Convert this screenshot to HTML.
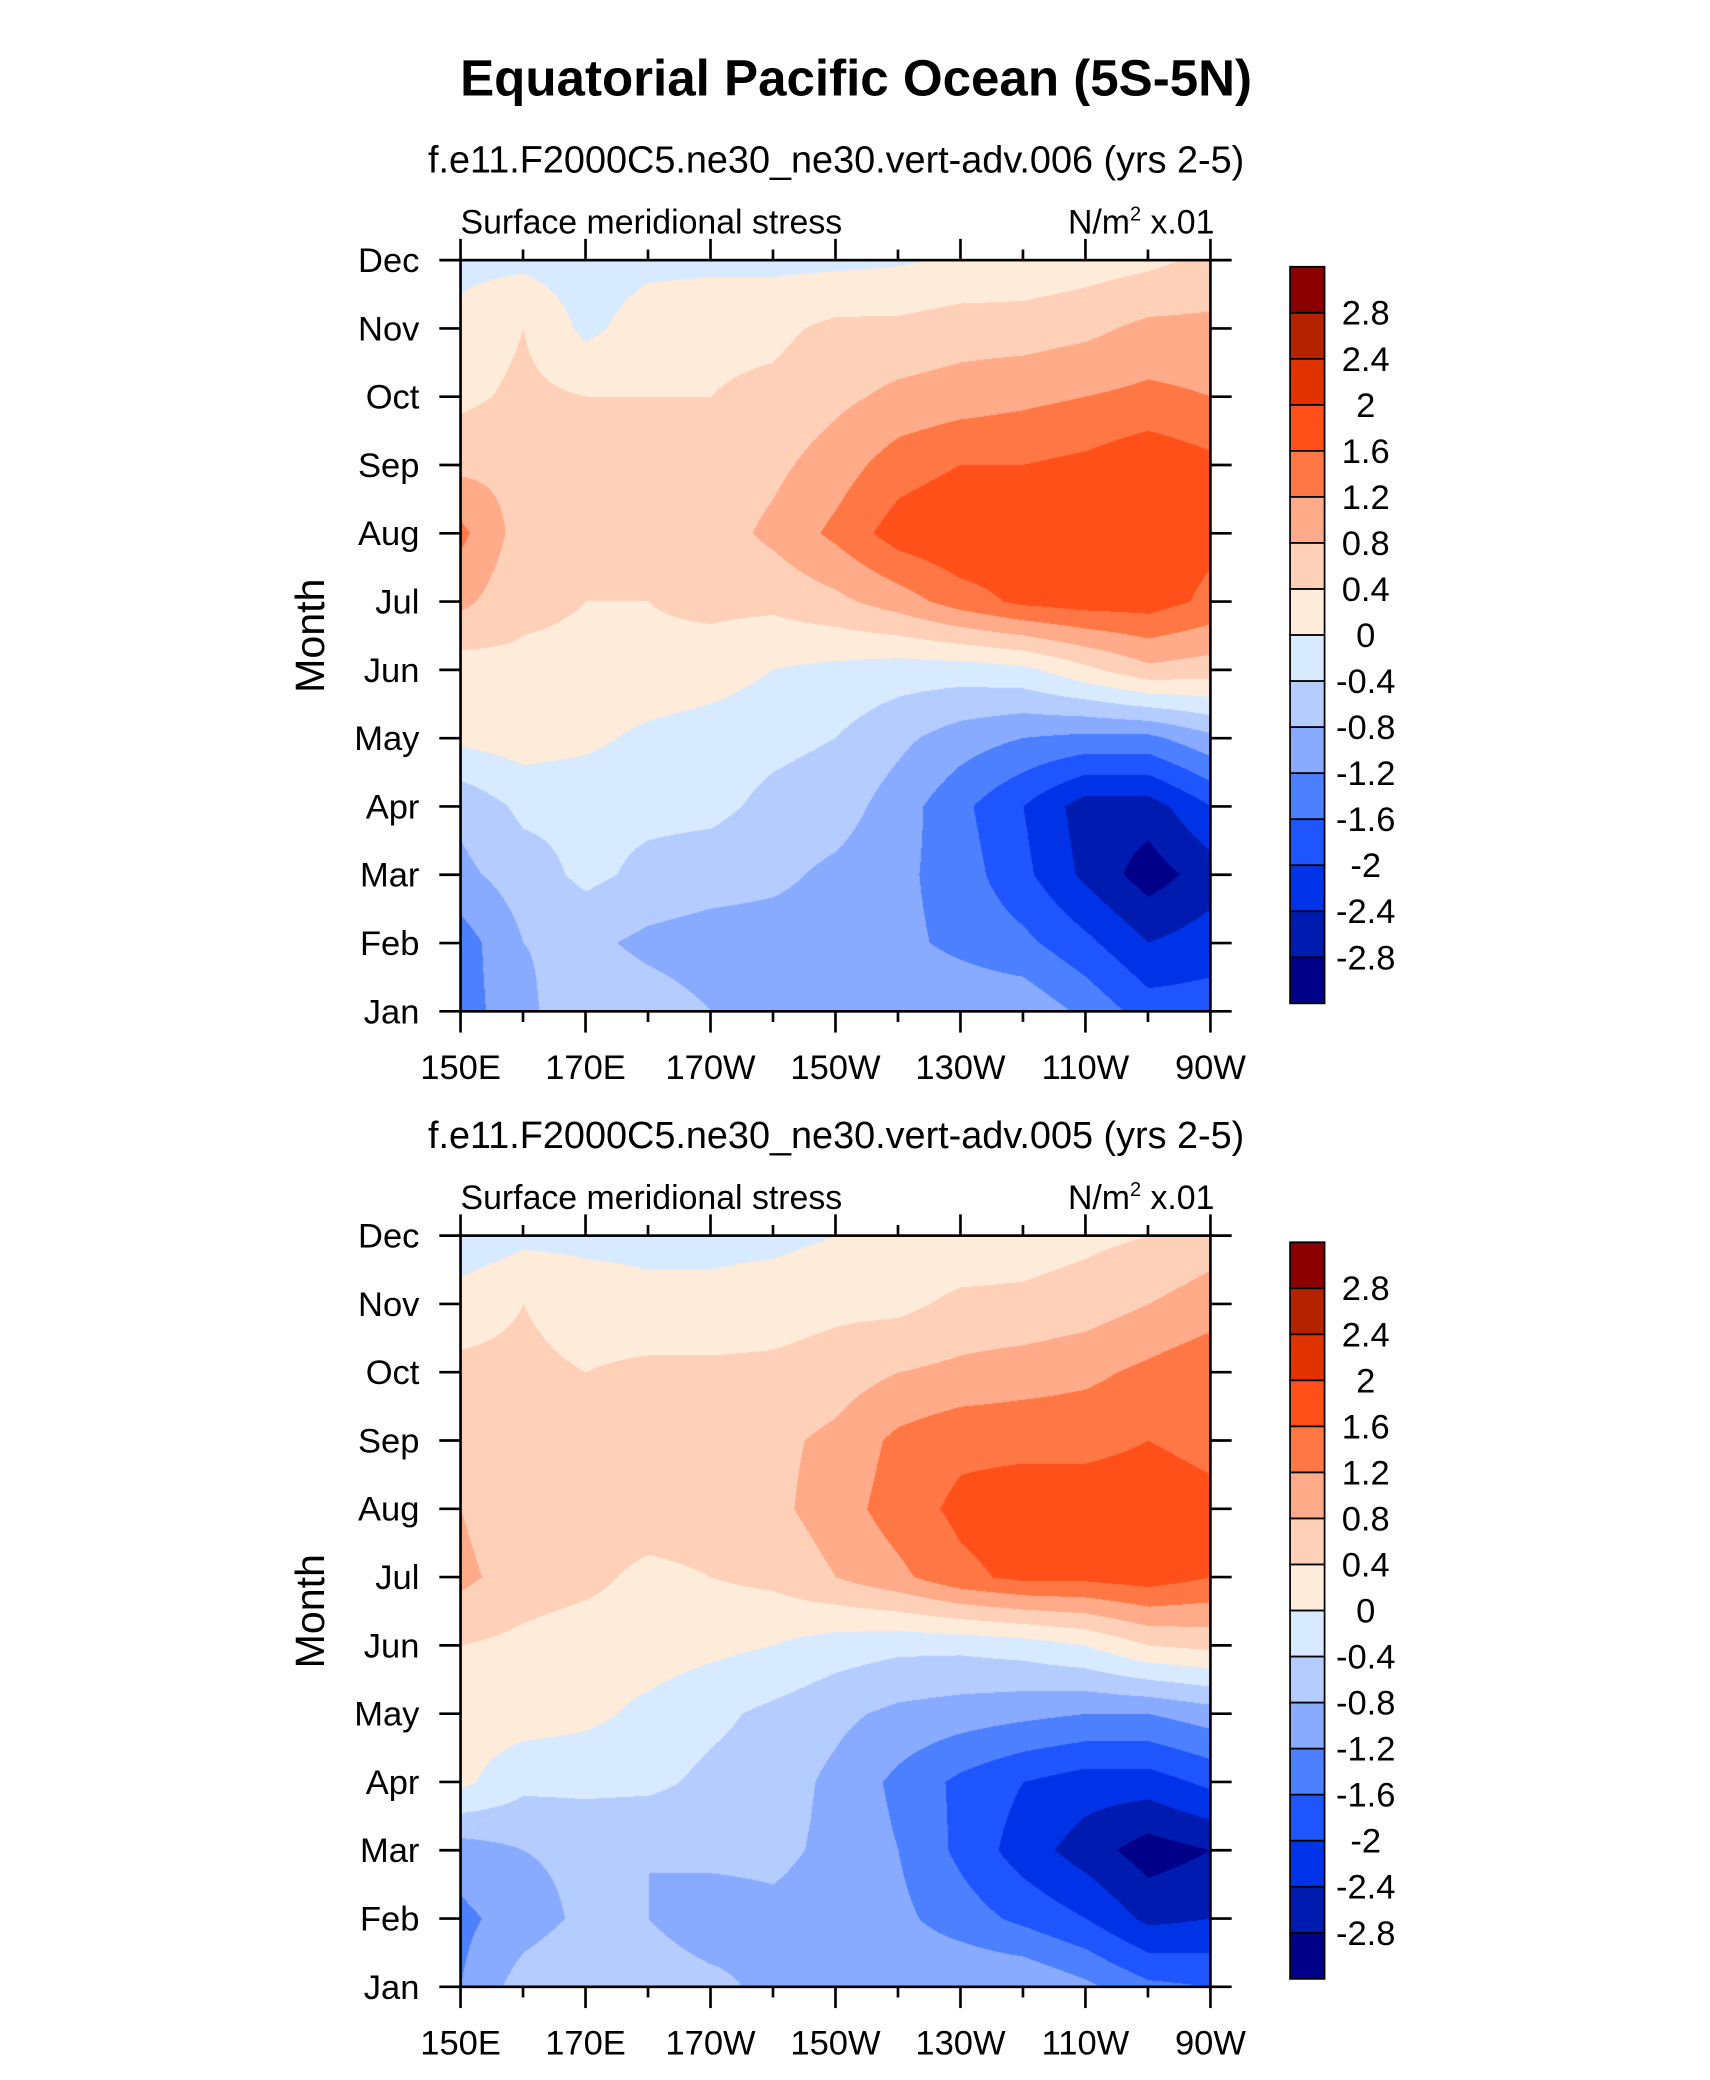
<!DOCTYPE html>
<html><head><meta charset="utf-8">
<style>
html,body{margin:0;padding:0;background:#fff;}
#wrap{position:relative;width:1710px;height:2080px;overflow:hidden;background:#fff;}
canvas{position:absolute;}
svg{position:absolute;left:0;top:0;}
</style></head>
<body>
<div id="wrap">
<canvas id="c1"></canvas>
<canvas id="c2"></canvas>
<svg id="svg" width="1710" height="2080" viewBox="0 0 1288.4 1567.2" preserveAspectRatio="none" font-family="Liberation Sans, Arial, sans-serif">
<text x="645" y="72" text-anchor="middle" font-size="38.5" font-weight="bold">Equatorial Pacific Ocean (5S-5N)</text>
</svg>
</div>
<script>
// ---- data ----
const months = ["Jan","Feb","Mar","Apr","May","Jun","Jul","Aug","Sep","Oct","Nov","Dec"];
const lons = [150,160,170,180,190,200,210,220,230,240,250,260,270];
const xTickLabels = ["150E","170E","170W","150W","130W","110W","90W"];
const levels = [-2.8,-2.4,-2,-1.6,-1.2,-0.8,-0.4,0,0.4,0.8,1.2,1.6,2,2.4,2.8];
const levelLabels = ["2.8","2.4","2","1.6","1.2","0.8","0.4","0","-0.4","-0.8","-1.2","-1.6","-2","-2.4","-2.8"];
const colors = ["#000088","#001bb0","#0033e8","#1f55ff","#4c80ff","#88aaff","#b4ccff","#d8eaff","#ffebda","#ffd0b8","#ffaa88","#ff7744","#ff5019","#e03300","#b52200","#8b0000"];
const run006 = [
 [-1.4,-0.9,-0.5,-0.6,-0.8,-0.9,-0.9,-0.9,-0.9,-0.9,-1.3,-1.8,-1.8],
 [-1.4,-0.8,-0.7,-0.9,-1.0,-1.0,-1.0,-1.1,-1.3,-1.5,-1.9,-2.4,-2.2],
 [-0.9,-0.6,-0.3,-0.5,-0.6,-0.7,-0.9,-1.1,-1.4,-1.9,-2.5,-3.0,-2.6],
 [-0.7,-0.3,-0.3,-0.3,-0.3,-0.5,-0.6,-1.0,-1.5,-2.0,-2.6,-2.6,-2.0],
 [0.1,0.2,0.1,-0.1,-0.2,-0.3,-0.4,-0.7,-1.0,-1.2,-1.3,-1.3,-0.9],
 [0.2,0.3,0.3,0.3,0.2,0.0,-0.1,-0.2,-0.2,-0.1,0.3,0.7,0.6],
 [0.9,0.5,0.4,0.4,0.5,0.5,0.7,1.0,1.4,1.7,1.8,1.8,1.5],
 [1.3,0.6,0.6,0.8,0.6,0.9,1.3,1.8,2.0,1.9,1.8,1.9,1.7],
 [0.7,0.7,0.6,0.6,0.5,0.7,1.0,1.4,1.6,1.6,1.7,1.9,1.7],
 [0.3,0.5,0.4,0.4,0.4,0.5,0.7,0.9,1.0,1.1,1.2,1.3,1.2],
 [0.1,0.4,-0.1,0.2,0.3,0.3,0.5,0.5,0.6,0.6,0.7,0.9,0.9],
 [-0.1,-0.1,-0.2,-0.1,-0.1,-0.1,-0.1,-0.05,0.05,0.1,0.2,0.3,0.5]
];
const run005 = [
 [-1.2,-0.6,-0.4,-0.6,-0.7,-0.9,-1.0,-0.9,-0.8,-0.8,-1.1,-1.5,-1.6],
 [-1.3,-1.0,-0.7,-0.8,-1.0,-0.9,-1.0,-1.1,-1.4,-1.7,-2.0,-2.5,-2.4],
 [-1.0,-0.8,-0.7,-0.8,-0.7,-0.7,-0.9,-1.2,-1.7,-2.2,-2.6,-3.0,-2.8],
 [0.1,-0.3,-0.3,-0.3,-0.5,-0.6,-0.9,-1.3,-1.7,-2.0,-2.2,-2.2,-1.9],
 [0.2,0.2,0.1,-0.1,-0.3,-0.5,-0.7,-0.9,-1.0,-1.1,-1.2,-1.2,-1.0],
 [0.4,0.3,0.2,0.2,0.1,0.0,-0.2,-0.3,-0.3,-0.2,0.0,0.4,0.5],
 [0.9,0.6,0.5,0.3,0.4,0.5,0.8,1.1,1.5,1.7,1.7,1.8,1.6],
 [0.8,0.5,0.6,0.6,0.6,0.7,1.0,1.4,1.7,1.8,1.8,1.8,1.7],
 [0.6,0.4,0.6,0.6,0.6,0.7,0.9,1.3,1.5,1.5,1.5,1.6,1.5],
 [0.5,0.5,0.4,0.5,0.5,0.5,0.6,0.8,0.9,1.0,1.1,1.3,1.5],
 [0.2,0.4,0.2,0.1,0.1,0.2,0.3,0.3,0.5,0.5,0.6,0.8,1.0],
 [-0.3,-0.1,-0.1,-0.1,-0.1,-0.1,0.0,0.05,0.1,0.2,0.3,0.4,0.6]
];
// ---- layout (display units, scaled by K to real px) ----
const K = 1710/1288.4;
const PL = 347, PR = 912, PW = PR-PL, PH = 566;
const panels = [
 {top:196, data:run006, canvas:'c1', sub:"f.e11.F2000C5.ne30_ne30.vert-adv.006 (yrs 2-5)", name:'006'},
 {top:931, data:run005, canvas:'c2', sub:"f.e11.F2000C5.ne30_ne30.vert-adv.005 (yrs 2-5)", name:'005'}
];
const NS = 'http://www.w3.org/2000/svg';
const svg = document.getElementById('svg');
function el(tag, attrs, parent){const e=document.createElementNS(NS,tag);for(const k in attrs)e.setAttribute(k,attrs[k]);(parent||svg).appendChild(e);return e;}
function hex(c){return [parseInt(c.substr(1,2),16),parseInt(c.substr(3,2),16),parseInt(c.substr(5,2),16)];}
function colorIndex(v){let i=0;while(i<levels.length && v>=levels[i])i++;return i;}
function xScale(lon){return PL + (lon-150)/120*PW;}
function yScale(top,m){return top+PH - m/11*PH;}
function sample(data,lon,m){
  let fi=(lon-150)/10, fj=m;
  let i=Math.min(Math.floor(fi),lons.length-2), j=Math.min(Math.floor(fj),months.length-2);
  i=Math.max(0,i); j=Math.max(0,j);
  const tx=fi-i, ty=fj-j;
  const a=data[j][i], b=data[j][i+1], c=data[j+1][i], d=data[j+1][i+1];
  return a*(1-tx)*(1-ty)+b*tx*(1-ty)+c*(1-tx)*ty+d*tx*ty;
}
const rgb = colors.map(hex);
panels.forEach(p=>{
  const cv=document.getElementById(p.canvas);
  const W=Math.round(PW*K), H=Math.round(PH*K);
  cv.width=W; cv.height=H;
  cv.style.left=(PL*K)+'px'; cv.style.top=(p.top*K)+'px';
  const ctx=cv.getContext('2d'); const img=ctx.createImageData(W,H);
  for(let y=0;y<H;y++){
    const m=(1-(y+0.5)/H)*11;
    for(let x=0;x<W;x++){
      const lon=150+(x+0.5)/W*120;
      const c=rgb[colorIndex(sample(p.data,lon,m))];
      const o=(y*W+x)*4; img.data[o]=c[0];img.data[o+1]=c[1];img.data[o+2]=c[2];img.data[o+3]=255;
    }
  }
  ctx.putImageData(img,0,0);
  const g=el('g',{});
  
  
  const t=p.top, b=p.top+PH;
  const st=el('text',{x:630,y:t-66,'text-anchor':'middle','font-size':28.5},g); st.textContent=p.sub;
  
  
  const lt=el('text',{x:PL,y:t-20,'font-size':25.5},g); lt.textContent='Surface meridional stress';
  
  
  const ut=el('text',{x:PR+3,y:t-20,'font-size':25.5,'text-anchor':'end'},g);
  ut.innerHTML='N/m<tspan dy="-10" font-size="15">2</tspan><tspan dy="10"> x.01</tspan>';
  
  
  const yt=el('text',{x:0,y:0,'font-size':31,'text-anchor':'middle',transform:`translate(244,${t+PH/2}) rotate(-90)`},g);
  yt.textContent='Month';
  
  
  const fr=el('rect',{x:PL,y:t,width:PW,height:PH,fill:'none',stroke:'#000','stroke-width':2},g);
  
  
  months.forEach((mn,k)=>{
    const y=yScale(t,k);
    el('line',{x1:PL-16,x2:PL,y1:y,y2:y,stroke:'#000','stroke-width':2},g);
    el('line',{x1:PR,x2:PR+16,y1:y,y2:y,stroke:'#000','stroke-width':2},g);
    const tx=el('text',{x:PL-31,y:y+9,'text-anchor':'end','font-size':26},g); tx.textContent=mn;
    
    
  });
  for(let lon=150;lon<=270;lon+=10){
    const x=xScale(lon), major=(lon-150)%20===0, L=major?16:8;
    el('line',{x1:x,x2:x,y1:b,y2:b+L,stroke:'#000','stroke-width':2},g);
    el('line',{x1:x,x2:x,y1:t,y2:t-L,stroke:'#000','stroke-width':2},g);
  }
  xTickLabels.forEach((lb,k)=>{
    const tx=el('text',{x:xScale(150+k*20),y:b+51,'text-anchor':'middle','font-size':26},g); tx.textContent=lb;
    
    
  });
  const cb=el('g',{},g);
  
  
  const cbT=t+5, cbH=555, n=colors.length, bh=cbH/n;
  for(let k=0;k<n;k++){
    const r=el('rect',{x:972,y:cbT+k*bh,width:26,height:bh,fill:colors[n-1-k],stroke:'#000','stroke-width':1.3},cb);
    
    
  }
  levelLabels.forEach((lb,k)=>{
    const tx=el('text',{x:1029,y:cbT+(k+1)*bh+9,'text-anchor':'middle','font-size':26},cb); tx.textContent=lb;
    
    
  });
});
</script>
</body></html>
